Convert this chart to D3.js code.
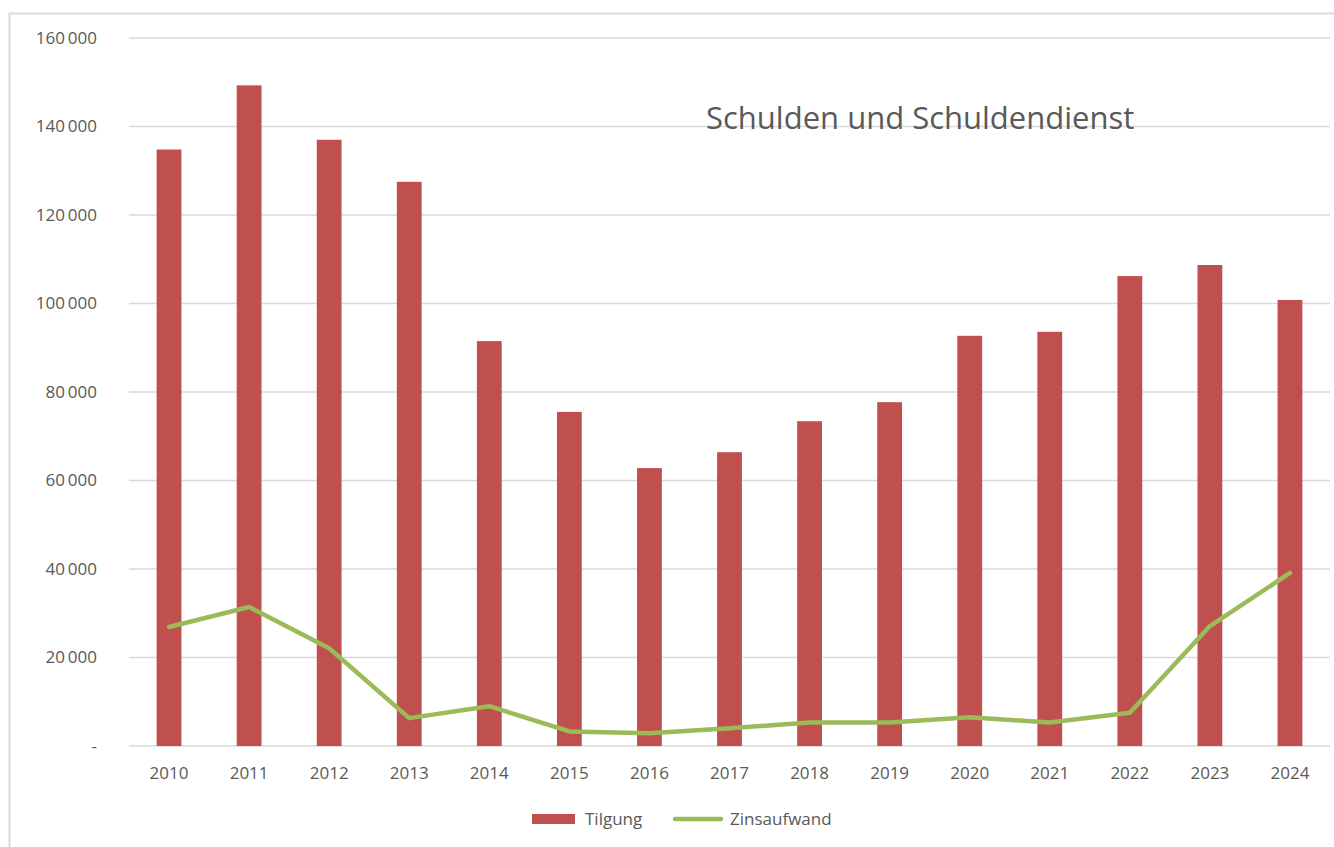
<!DOCTYPE html>
<html>
<head>
<meta charset="utf-8">
<script src="https://cdn.jsdelivr.net/npm/d3@7"></script>
<style>
  body { margin: 0; background: #fff; }
  svg { display: block; font-family: "Open Sans", "Noto Sans", sans-serif; }
</style>
</head>
<body>
<svg id="chart" width="1334" height="847"></svg>
<script>
var years = ['2010', '2011', '2012', '2013', '2014', '2015', '2016', '2017', '2018', '2019', '2020', '2021', '2022', '2023', '2024'];
var tilgung = [134800, 149300, 137000, 127500, 91500, 75500, 62800, 66400, 73400, 77700, 92700, 93600, 106200, 108700, 100800];
var zinsaufwand = [26900, 31400, 22100, 6300, 9000, 3300, 2900, 4000, 5300, 5300, 6500, 5300, 7500, 27100, 39100];
var yTicks = [0, 20000, 40000, 60000, 80000, 100000, 120000, 140000, 160000];
var seriesNames = ['Tilgung', 'Zinsaufwand'];

(function () {
    var svg = d3.select("#chart");
    var margin = { top: 38, right: 4, bottom: 101, left: 129 };
    var width = +svg.attr("width") - margin.left - margin.right;
    var height = +svg.attr("height") - margin.top - margin.bottom;

    // outer chart border (runs off the right and bottom edge)
    svg.append("rect")
        .attr("x", 9.5).attr("y", 13.5)
        .attr("width", 1400).attr("height", 900)
        .attr("fill", "none").attr("stroke", "#d9d9d9").attr("stroke-width", 2);

    var g = svg.append("g")
        .attr("transform", "translate(" + margin.left + "," + margin.top + ")");

    var x = d3.scaleBand().domain(years).range([0, width]).paddingInner(0.69).paddingOuter(0.345);
    var xc = d3.scalePoint().domain(years).range([0, width]).padding(0.5);
    var y = d3.scaleLinear().domain([0, 160000]).range([height, 0]);

    // gridlines
    g.selectAll(".grid")
        .data(yTicks)
        .enter().append("line")
        .attr("class", "grid")
        .attr("x1", 0).attr("x2", width)
        .attr("y1", function (d) { return y(d); })
        .attr("y2", function (d) { return y(d); })
        .attr("stroke", "#d9d9d9")
        .attr("stroke-width", 1.5);

    // y axis labels
    var fmt = function (d) {
        if (d === 0) return "-";
        return d3.format(",")(d).replace(/,/g, "\u2009");
    };
    g.append("g")
        .attr("class", "axis axis--y")
        .call(d3.axisLeft(y).tickValues(yTicks).tickSize(0).tickPadding(32).tickFormat(fmt))
        .call(function (a) { a.select(".domain").remove(); a.attr("font-family", null).attr("font-size", null); })
        .selectAll("text")
        .attr("fill", "#595959")
        .style("font-size", "17px");

    // x axis labels
    g.append("g")
        .attr("class", "axis axis--x")
        .attr("transform", "translate(0," + height + ")")
        .call(d3.axisBottom(x).tickSize(0).tickPadding(21))
        .call(function (a) { a.select(".domain").remove(); a.attr("font-family", null).attr("font-size", null); })
        .selectAll("text")
        .attr("fill", "#595959")
        .style("font-size", "17px");

    // bars
    g.selectAll(".bar")
        .data(tilgung)
        .enter().append("rect")
        .attr("class", "bar")
        .attr("x", function (d, i) { return x(years[i]); })
        .attr("y", function (d) { return y(d); })
        .attr("width", x.bandwidth())
        .attr("height", function (d) { return height - y(d); })
        .attr("fill", "#c0504d");

    // line
    var line = d3.line()
        .x(function (d, i) { return xc(years[i]); })
        .y(function (d) { return y(d); });
    g.append("path")
        .datum(zinsaufwand)
        .attr("d", line)
        .attr("fill", "none")
        .attr("stroke", "#9bbb59")
        .attr("stroke-width", 4.5)
        .attr("stroke-linejoin", "round")
        .attr("stroke-linecap", "round");

    // title
    svg.append("text")
        .attr("x", 706).attr("y", 129)
        .attr("fill", "#595959")
        .style("font-size", "31px")
        .text("Schulden und Schuldendienst");

    // legend
    var lg = svg.append("g").attr("transform", "translate(532,819)");
    lg.append("rect")
        .attr("x", 0).attr("y", -5).attr("width", 43).attr("height", 10)
        .attr("fill", "#c0504d");
    lg.append("text")
        .attr("x", 53).attr("y", 6)
        .attr("fill", "#595959").style("font-size", "17px")
        .text(seriesNames[0]);
    lg.append("line")
        .attr("x1", 143).attr("x2", 189).attr("y1", 0).attr("y2", 0)
        .attr("stroke", "#9bbb59").attr("stroke-width", 4.5).attr("stroke-linecap", "round");
    lg.append("text")
        .attr("x", 198).attr("y", 6)
        .attr("fill", "#595959").style("font-size", "17px")
        .text(seriesNames[1]);
})();
</script>
</body>
</html>
